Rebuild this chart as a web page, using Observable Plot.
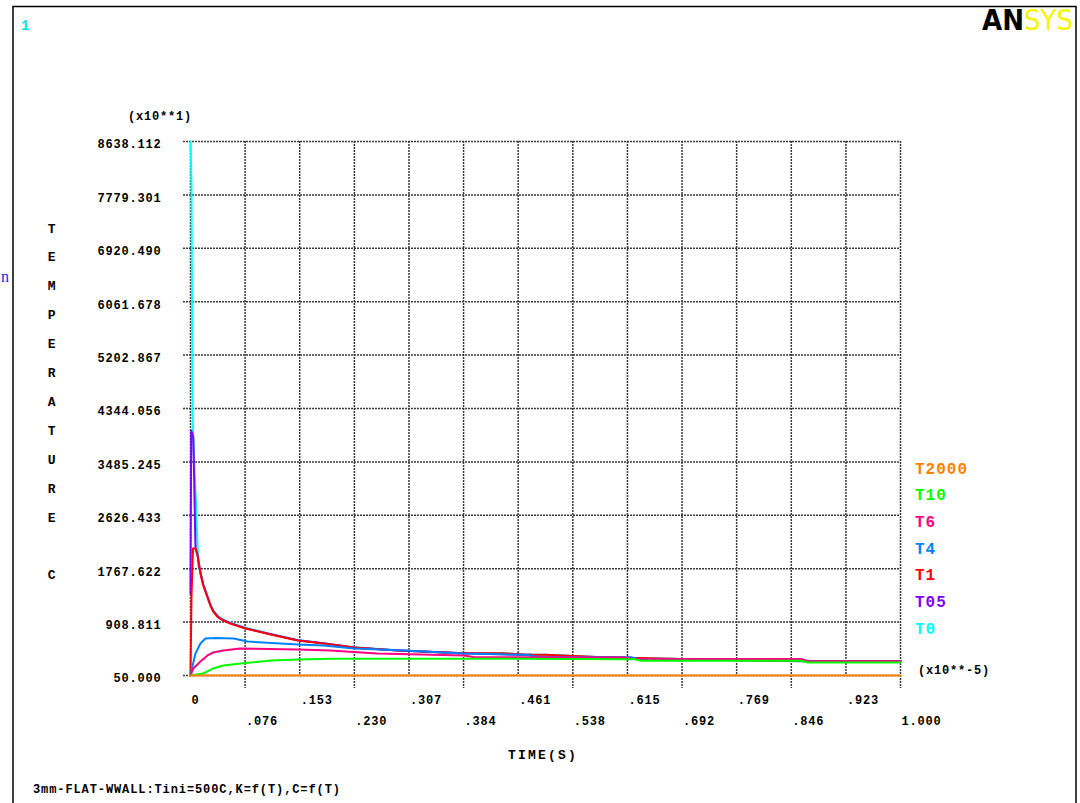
<!DOCTYPE html>
<html><head><meta charset="utf-8">
<script src="https://cdn.jsdelivr.net/npm/d3@7"></script>
<script src="https://cdn.jsdelivr.net/npm/@observablehq/plot@0.6"></script>
<style>
html,body{margin:0;padding:0;background:#fff;}
#chart{position:relative;width:1080px;height:803px;overflow:hidden;background:#fff;}
</style></head><body><div id="chart"></div>
<script>
// ---- data ----
const seriesNames  = ["T0", "T05", "T1", "T4", "T6", "T10", "T2000"];
const seriesColors = ["#00ffff", "#8000ff", "#ff0000", "#0080ff", "#ff0080", "#00ff00", "#ff8000"];
const legendOrder  = ["T2000", "T10", "T6", "T4", "T1", "T05", "T0"];

// time in units of 1e-5 s, temperature in units of 10 C (as labelled)
const t_T0 = [0, 0.0014, 0.0028, 0.005, 0.008, 0.011, 0.014, 0.018, 0.024, 0.028, 0.032, 0.039, 0.046, 0.056, 0.077, 0.113, 0.151, 0.187, 0.230, 0.292, 0.385, 0.441, 0.472, 0.50, 0.58, 0.68, 0.715, 0.79, 0.87, 1.0];
const v_T0 = [8638.112, 7963, 4300, 3500, 2750, 1800, 1720, 1520, 1325, 1195, 1098, 1000, 950, 900, 818, 718, 620, 570, 505, 456, 409, 409, 383, 383, 344, 319, 302, 291, 280, 280];

const t_T05 = [0, 0.001, 0.004, 0.007, 0.0099, 0.014, 0.018, 0.024, 0.028, 0.032, 0.039, 0.046, 0.056, 0.077, 0.113, 0.151, 0.187, 0.230, 0.292, 0.385, 0.44, 0.48, 0.49, 0.62, 0.63, 0.78, 0.80, 0.85, 0.87, 1.0];
const v_T05 = [1369, 3990, 3880, 2110, 1990, 1705, 1510, 1315, 1185, 1088, 992, 942, 893, 812, 712, 616, 567, 502, 453, 406, 390, 383, 350, 340, 319, 310, 302, 291, 280, 280];

const t_T1 = [0, 0.0014, 0.0035, 0.007, 0.0099, 0.014, 0.018, 0.024, 0.028, 0.032, 0.039, 0.046, 0.056, 0.077, 0.113, 0.151, 0.187, 0.230, 0.292, 0.385, 0.441, 0.472, 0.50, 0.55, 0.58, 0.68, 0.715, 0.79, 0.87, 1.0];
const v_T1 = [50, 1304, 2092, 2092, 1980, 1690, 1497, 1304, 1176, 1079, 983, 935, 886, 806, 709, 613, 565, 500, 452, 409, 409, 383, 383, 360, 344, 319, 302, 291, 280, 280];

const t_T4 = [0, 0.003, 0.007, 0.014, 0.021, 0.035, 0.061, 0.080, 0.127, 0.151, 0.187, 0.230, 0.30, 0.385, 0.47, 0.49, 0.62, 0.63, 0.78, 0.80, 0.85, 0.87, 1.0];
const v_T4 = [50, 211, 404, 565, 645, 653, 645, 597, 565, 549, 532, 485, 452, 404, 383, 350, 340, 319, 310, 302, 291, 280, 280];

const t_T6 = [0, 0.004, 0.014, 0.024, 0.032, 0.046, 0.070, 0.152, 0.197, 0.263, 0.385, 0.40, 0.61, 0.62, 0.86, 0.87, 1.0];
const v_T6 = [50, 163, 275, 372, 420, 452, 484, 468, 452, 404, 372, 345, 340, 320, 315, 280, 280];

const t_T10 = [0, 0.018, 0.032, 0.046, 0.077, 0.113, 0.152, 0.197, 0.44, 0.625, 0.635, 0.86, 0.87, 1.0];
const v_T10 = [50, 82, 163, 211, 251, 291, 307, 320, 318, 312, 286, 286, 259, 259];

const t_T2000 = [0, 1.0];
const v_T2000 = [50, 50];

const yTicks = [50, 908.811, 1767.622, 2626.433, 3485.245, 4344.056, 5202.867, 6061.678, 6920.490, 7779.301, 8638.112];
const yTickLabels = ["50.000", "908.811", "1767.622", "2626.433", "3485.245", "4344.056", "5202.867", "6061.678", "6920.490", "7779.301", "8638.112"];
const xTicks = [0, 0.0769, 0.1538, 0.2308, 0.3077, 0.3846, 0.4615, 0.5385, 0.6154, 0.6923, 0.7692, 0.8462, 0.9231, 1.0];
const xTickLabels = ["0", ".076", ".153", ".230", ".307", ".384", ".461", ".538", ".615", ".692", ".769", ".846", ".923", "1.000"];

const yTitle = "TEMPERATURE C";
const xTitle = "TIME(S)";
const caption = "3mm-FLAT-WWALL:Tini=500C,K=f(T),C=f(T)";

// ---- build ----
const seriesT = {T0: t_T0, T05: t_T05, T1: t_T1, T4: t_T4, T6: t_T6, T10: t_T10, T2000: t_T2000};
const seriesV = {T0: v_T0, T05: v_T05, T1: v_T1, T4: v_T4, T6: v_T6, T10: v_T10, T2000: v_T2000};
const colorOf = Object.fromEntries(seriesNames.map((s, i) => [s, seriesColors[i]]));

const xLab = new Map(xTicks.map((d, i) => [d, xTickLabels[i]]));
const yLab = new Map(yTicks.map((d, i) => [d, yTickLabels[i]]));
const xUpper = xTicks.filter((d, i) => i % 2 === 0);
const xLower = xTicks.filter((d, i) => i % 2 === 1);

const gridStyle = {stroke: "#3a3a3a", strokeWidth: 1.5, strokeDasharray: "2,1"};

const lineMarks = seriesNames.map(s =>
  Plot.line(seriesT[s].map((t, i) => ({t, v: seriesV[s][i]})),
    {x: "t", y: "v", stroke: colorOf[s], strokeWidth: 2})
);

const svg = Plot.plot({
  width: 1080,
  height: 803,
  marginLeft: 190,
  marginRight: 180,
  marginTop: 141,
  marginBottom: 128,
  x: {domain: [0, 1], axis: null},
  y: {domain: [50, 8638.112], axis: null},
  style: {
    fontFamily: "'Liberation Mono', 'DejaVu Sans Mono', monospace",
    fontWeight: "bold",
    fontSize: "12px",
    letterSpacing: "0.8px",
    background: "white",
    color: "black",
    overflow: "visible"
  },
  marks: [
    Plot.ruleY(yTicks, {y: d => d, insetLeft: -7, ...gridStyle}),
    Plot.ruleX(xUpper, {x: d => d, ...gridStyle}),
    Plot.ruleX(xLower, {x: d => d, insetBottom: -13, ...gridStyle}),
    Plot.text(yTicks, {y: d => d, frameAnchor: "left", textAnchor: "end", dx: -29, dy: 3, text: d => yLab.get(d), fill: "black"}),
    Plot.text(xUpper, {x: d => d, frameAnchor: "bottom", textAnchor: "start", dx: 1, dy: 28.5, text: d => xLab.get(d), fill: "black"}),
    Plot.text(xLower, {x: d => d, frameAnchor: "bottom", textAnchor: "start", dx: 1, dy: 49, text: d => xLab.get(d), fill: "black"}),
    ...lineMarks
  ]
});

document.getElementById("chart").appendChild(svg);

// ---- annotations ----
const g = d3.select(svg).append("g")
  .attr("text-anchor", "start")
  .attr("font-family", "'Liberation Mono', 'DejaVu Sans Mono', monospace")
  .attr("font-weight", "bold");

// outer frame
g.append("path")
  .attr("d", "M13,803V6.5H1076V803")
  .attr("fill", "none").attr("stroke", "black").attr("stroke-width", 1.5);

g.append("text").attr("x", 21).attr("y", 30).attr("font-size", 14).attr("fill", "#00e5e5").text("1");

const logo = g.append("text").attr("x", 982).attr("y", 30).attr("font-size", 29)
  .attr("font-family", "'Liberation Sans Narrow', 'DejaVu Sans Condensed', 'Liberation Sans', sans-serif")
  .attr("letter-spacing", "0px");
logo.append("tspan").attr("font-weight", "900").attr("fill", "black").text("AN");
logo.append("tspan").attr("font-weight", "normal").attr("fill", "#f5f500").text("SYS");

g.append("text").attr("x", 1).attr("y", 282).attr("font-size", 16).attr("font-weight", "normal")
  .attr("font-family", "'Liberation Serif', serif").attr("fill", "#1a1aff").text("n");

g.append("text").attr("x", 128).attr("y", 120).attr("font-size", 12).text("(x10**1)");
g.append("text").attr("x", 918).attr("y", 674).attr("font-size", 12).text("(x10**-5)");

yTitle.split("").forEach((ch, i) => {
  g.append("text").attr("x", 52).attr("y", 228 + 28.9 * i + 4.5)
    .attr("text-anchor", "middle").attr("font-size", 13).text(ch);
});

g.append("text").attr("x", 508).attr("y", 759).attr("font-size", 13).attr("letter-spacing", "2.2px").text(xTitle);
g.append("text").attr("x", 33).attr("y", 793).attr("font-size", 12).attr("letter-spacing", "0.9px").text(caption);

legendOrder.forEach((s, i) => {
  g.append("text").attr("x", 915).attr("y", 468 + 26.67 * i + 5.5)
    .attr("font-size", 16).attr("letter-spacing", "1px").attr("fill", colorOf[s]).text(s);
});
</script></body></html>
